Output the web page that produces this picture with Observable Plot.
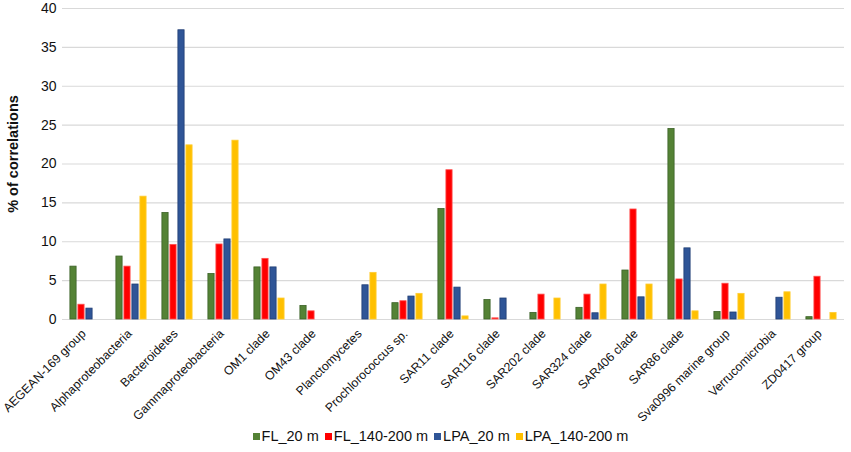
<!DOCTYPE html>
<html>
<head>
<meta charset="utf-8">
<script src="https://cdn.jsdelivr.net/npm/d3@7"></script>
<script src="https://cdn.jsdelivr.net/npm/@observablehq/plot@0.6"></script>
<style>
  body { margin: 0; background: #fff; font-family: "Liberation Sans", Arial, sans-serif; }
  #wrap { position: relative; width: 851px; }
  #ytitle { position: absolute; left: 13px; top: 154px; transform: translate(-50%, -50%) rotate(-90deg); white-space: nowrap; font-size: 14.5px; font-weight: bold; color: #111; }
  #legend { display: flex; justify-content: center; align-items: center; font-size: 14.5px; color: #111; margin-top: 10px; padding-left: 36px; }
  #legend .item { display: flex; align-items: center; margin-right: 6px; }
  #legend .sw { width: 7px; height: 7px; margin-right: 2px; }
</style>
</head>
<body>
<div id="wrap">
  <div id="chart"></div>
  <div id="ytitle">% of correlations</div>
  <div id="legend"></div>
</div>
<script>
const categories = ["AEGEAN-169 group", "Alphaproteobacteria", "Bacteroidetes", "Gammaproteobacteria", "OM1 clade", "OM43 clade", "Planctomycetes", "Prochlorococcus sp.", "SAR11 clade", "SAR116 clade", "SAR202 clade", "SAR324 clade", "SAR406 clade", "SAR86 clade", "Sva0996 marine group", "Verrucomicrobia", "ZD0417 group"];
const series = ["FL_20 m", "FL_140-200 m", "LPA_20 m", "LPA_140-200 m"];
const colors = ["#548235", "#FF0000", "#2F5597", "#FFC000"];
const strokes = ["#3B6126", "#FF5050", "#1F3D73", "#FFCC33"];
const fl20    = [6.8, 8.1, 13.7, 5.85, 6.7, 1.75, 0, 2.1, 14.2, 2.5, 0.85, 1.5, 6.3, 24.5, 0.97, 0, 0.3];
const fl140   = [1.9, 6.8, 9.6, 9.65, 7.8, 1.05, 0, 2.35, 19.2, 0.15, 3.2, 3.2, 14.15, 5.15, 4.6, 0, 5.5];
const lpa20   = [1.4, 4.5, 37.2, 10.3, 6.7, 0, 4.4, 2.95, 4.1, 2.7, 0, 0.8, 2.85, 9.15, 0.9, 2.8, 0];
const lpa140  = [0, 15.8, 22.4, 23.0, 2.7, 0, 6.0, 3.3, 0.4, 0, 2.7, 4.5, 4.5, 1.05, 3.3, 3.5, 0.85];
const yTicks = [0, 5, 10, 15, 20, 25, 30, 35, 40];

const valueSets = [fl20, fl140, lpa20, lpa140];
const data = [];
categories.forEach((c, i) => {
  series.forEach((s, j) => {
    const v = valueSets[j][i];
    if (v > 0) data.push({category: c, series: s, value: v});
  });
});

const chart = Plot.plot({
  width: 851,
  height: 418,
  marginLeft: 58,
  marginRight: 3,
  marginTop: 8,
  marginBottom: 99,
  style: {fontFamily: "Liberation Sans, Arial, sans-serif", color: "#111", overflow: "visible"},
  fx: {domain: categories, paddingInner: 0, paddingOuter: 0, label: null, axis: null},
  x: {domain: series, paddingInner: 0, paddingOuter: 0.835, axis: null},
  y: {domain: [0, 40], label: null},
  color: {domain: series, range: colors},
  marks: [
    Plot.gridY(yTicks, {stroke: "#D9D9D9", strokeOpacity: 1, strokeWidth: 1.2}),
    Plot.barY(data, {
      fx: "category", x: "series", y: "value", fill: "series",
      stroke: d => strokes[series.indexOf(d.series)], strokeWidth: 0.8,
      insetLeft: 0.9, insetRight: 0.9
    }),
    Plot.axisY(yTicks, {tickSize: 0, tickPadding: 6, fontSize: 14, label: null, facetAnchor: "left"}),
    Plot.text(categories, {
      fx: d => d, text: d => d, frameAnchor: "bottom",
      rotate: -45, textAnchor: "end", dx: 1, dy: 15,
      fontSize: 12.3, fill: "#111"
    })
  ]
});
document.getElementById("chart").appendChild(chart);

const legend = document.getElementById("legend");
series.forEach((s, i) => {
  const item = document.createElement("div");
  item.className = "item";
  const sw = document.createElement("div");
  sw.className = "sw";
  sw.style.background = colors[i];
  const lab = document.createElement("span");
  lab.textContent = s;
  item.appendChild(sw);
  item.appendChild(lab);
  legend.appendChild(item);
});
</script>
</body>
</html>
